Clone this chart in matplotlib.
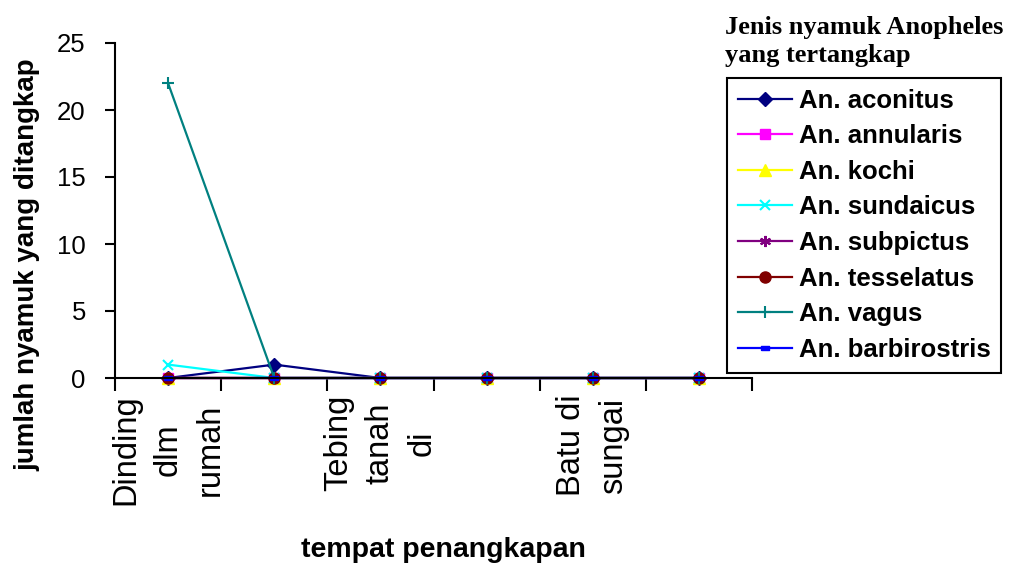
import matplotlib
matplotlib.use("Agg")
import matplotlib.pyplot as plt
import numpy as np

categories = ["Dinding\ndlm\nrumah", "", "Tebing\ntanah\ndi", "", "Batu di\nsungai", ""]
series_names = ["An. aconitus", "An. annularis", "An. kochi", "An. sundaicus",
                "An. subpictus", "An. tesselatus", "An. vagus", "An. barbirostris"]
aconitus = [0, 1, 0, 0, 0, 0]
annularis = [0, 0, 0, 0, 0, 0]
kochi = [0, 0, 0, 0, 0, 0]
sundaicus = [1, 0, 0, 0, 0, 0]
subpictus = [0, 0, 0, 0, 0, 0]
tesselatus = [0, 0, 0, 0, 0, 0]
vagus = [22, 0, 0, 0, 0, 0]
barbirostris = [0, 0, 0, 0, 0, 0]
y_ticks = [0, 5, 10, 15, 20, 25]

values = [aconitus, annularis, kochi, sundaicus, subpictus, tesselatus, vagus, barbirostris]
colors = ["#000080", "#FF00FF", "#FFFF00", "#00FFFF", "#800080", "#800000", "#008080", "#0000FF"]
bar_marker = [(-1, -0.45), (1, -0.45), (1, 0.45), (-1, 0.45), (-1, -0.45)]
markers = ["D", "s", "^", "x", (6, 2, 0), "o", "+", bar_marker]
msizes = [7, 7, 9, 7, 8, 8, 9, 6]

plt.rcParams['font.family'] = ['Liberation Sans', 'DejaVu Sans']

fig = plt.figure(figsize=(10.11, 5.67), dpi=100)
ax = fig.add_axes([115/1011, 1-378/567, (752-115)/1011, (378-43)/567])

x = np.arange(len(categories)) + 0.5
for name, vals, c, m, ms in zip(series_names, values, colors, markers, msizes):
    thin = isinstance(m, tuple) or m in ("x", "+")
    ax.plot(x, vals, color=c, marker=m, markersize=ms, linewidth=1.6,
            markeredgewidth=1.5 if thin else 1.0,
            markeredgecolor=c, markerfacecolor=c, label=name, clip_on=False)

ax.set_xlim(0, len(categories))
ax.set_ylim(0, 25)
ax.set_yticks(y_ticks)
ax.set_yticklabels([str(t) for t in y_ticks], fontsize=18.5)
ax.tick_params(axis='y', direction='out', length=7, width=1.5, pad=14)

ax.set_xticks(np.arange(len(categories) + 1))
ax.set_xticklabels([])
ax.tick_params(axis='x', which='major', direction='out', length=9, width=1.5)
ax.set_xticks(x, minor=True)
ax.set_xticklabels(categories, minor=True, rotation=90, fontsize=23.5,
                   ha='center', va='top', multialignment='center', linespacing=1.45)
ax.tick_params(axis='x', which='minor', length=0, pad=12)

for s in ("top", "right"):
    ax.spines[s].set_visible(False)
for s in ("left", "bottom"):
    ax.spines[s].set_linewidth(1.5)

fig.text(27/1011, 1-265/567, "jumlah nyamuk yang ditangkap", fontsize=20, fontweight='bold',
         rotation=90, ha='center', va='center')
fig.text(443/1011, 1-550/567, "tempat penangkapan", fontsize=20.5, fontweight='bold',
         ha='center', va='center')

fig.text(725/1011, 1-16/567, "Jenis nyamuk Anopheles\nyang tertangkap",
         fontsize=19, fontweight='bold', family=['Liberation Serif'],
         ha='left', va='top', linespacing=1.3)

leg = ax.legend(loc='upper left', bbox_to_anchor=(727/1011, 1-78/567),
                bbox_transform=fig.transFigure, borderaxespad=0,
                prop={'size': 18.5, 'weight': 'bold'}, frameon=True, fancybox=False,
                edgecolor='black', framealpha=1, handlelength=2.1, handletextpad=0.28,
                labelspacing=0.45, borderpad=0.42)
leg.get_frame().set_linewidth(1.5)

fig.savefig("out.png", dpi=100)
